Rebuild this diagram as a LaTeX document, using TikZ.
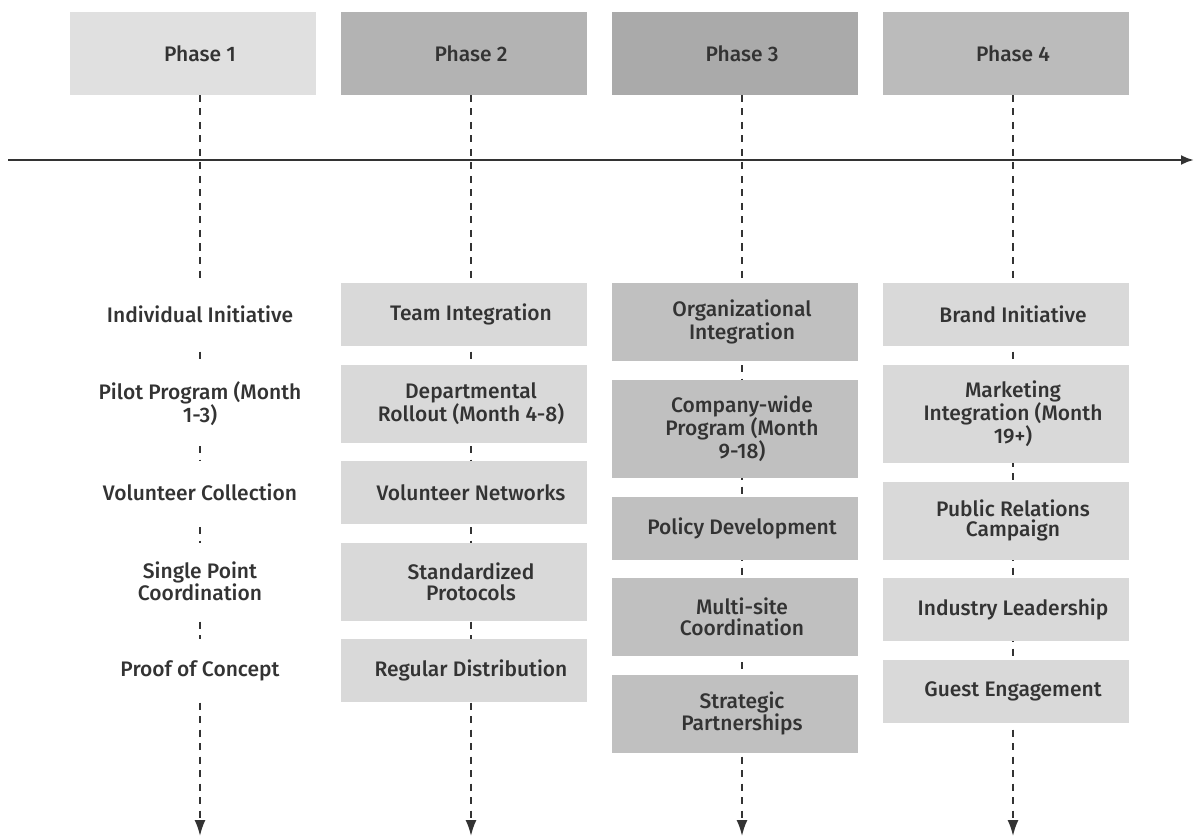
\documentclass[tikz,border=0pt]{standalone}
\usepackage{fontspec}
\setmainfont{Fira Sans}[UprightFont=* Medium]
\usetikzlibrary{positioning,arrows.meta,backgrounds}

\definecolor{ink}{HTML}{333333}
\definecolor{hdrA}{HTML}{E0E0E0}
\definecolor{hdrB}{HTML}{B3B3B3}
\definecolor{hdrC}{HTML}{AAAAAA}
\definecolor{hdrD}{HTML}{BBBBBB}
\definecolor{boxL}{HTML}{D9D9D9}
\definecolor{boxM}{HTML}{C0C0C0}

\begin{document}
\begin{tikzpicture}[x=1pt,y=1pt,
    every node/.style={font=\fontsize{21}{20.7}\selectfont, text=ink, align=center,
        inner sep=0pt, outer sep=0pt, minimum width=232pt},
    one/.style={minimum height=63pt},
    two/.style={minimum height=78pt},
    three/.style={minimum height=98.5pt},
    node distance=18.5pt,
    guide/.style={ink, line width=1.8pt, dash pattern=on 7pt off 6.5pt,
        -{Latex[length=16pt,width=11pt]}},
]
\useasboundingbox (0,0) rectangle (1194,-837);

% phase headers
\node[minimum height=83pt] (h1) at (200,-53.5) {Phase 1};
\node[minimum height=83pt] (h2) at (471,-53.5) {Phase 2};
\node[minimum height=83pt] (h3) at (742,-53.5) {Phase 3};
\node[minimum height=83pt] (h4) at (1013,-53.5) {Phase 4};

% phase 1
\node[one, fill=white, below=188pt of h1] (a1) {Individual Initiative};
\node[two, fill=white, below=of a1] (a2) {Pilot Program (Month\\1-3)};
\node[one, fill=white, below=of a2] (a3) {Volunteer Collection};
\node[two, fill=white, below=of a3] (a4) {Single Point\\Coordination};
\node[one, fill=white, below=of a4] (a5) {Proof of Concept};

% phase 2
\node[one, below=188pt of h2] (b1) {Team Integration};
\node[two, below=of b1] (b2) {Departmental\\Rollout (Month 4-8)};
\node[one, below=of b2] (b3) {Volunteer Networks};
\node[two, below=of b3] (b4) {Standardized\\Protocols};
\node[one, below=of b4] (b5) {Regular Distribution};

% phase 3
\node[two, below=188pt of h3] (c1) {Organizational\\Integration};
\node[three, below=of c1] (c2) {Company-wide\\Program (Month\\9-18)};
\node[one, below=of c2] (c3) {Policy Development};
\node[two, below=of c3] (c4) {Multi-site\\Coordination};
\node[two, below=of c4] (c5) {Strategic\\Partnerships};

% phase 4
\node[one, below=188pt of h4] (d1) {Brand Initiative};
\node[three, below=of d1] (d2) {Marketing\\Integration (Month\\19+)};
\node[two, below=of d2] (d3) {Public Relations\\Campaign};
\node[one, below=of d3] (d4) {Industry Leadership};
\node[one, below=of d4] (d5) {Guest Engagement};

\coordinate (e1) at (200,-836);
\coordinate (e2) at (471,-836);
\coordinate (e3) at (742,-836);
\coordinate (e4) at (1013,-836);
\coordinate (t0) at (8,-160);
\coordinate (t1) at (1194,-160);

\begin{scope}[on background layer]
  \foreach \c in {1,...,4}
    \draw[guide] (h\c.south) -- (e\c);
  \foreach \n/\f in {h1/hdrA, h2/hdrB, h3/hdrC, h4/hdrD}
    \fill[\f] ([xshift=-14pt]\n.north west) rectangle (\n.south east);
  \foreach \col/\f in {b/boxL, c/boxM, d/boxL}
    \foreach \r in {1,...,5}
      \fill[\f] ([xshift=-14pt]\col\r.north west) rectangle (\col\r.south east);
\end{scope}

% timeline
\draw[ink, line width=2.5pt, -{Latex[length=13pt,width=10pt]}] (t0) -- (t1);
\end{tikzpicture}
\end{document}
